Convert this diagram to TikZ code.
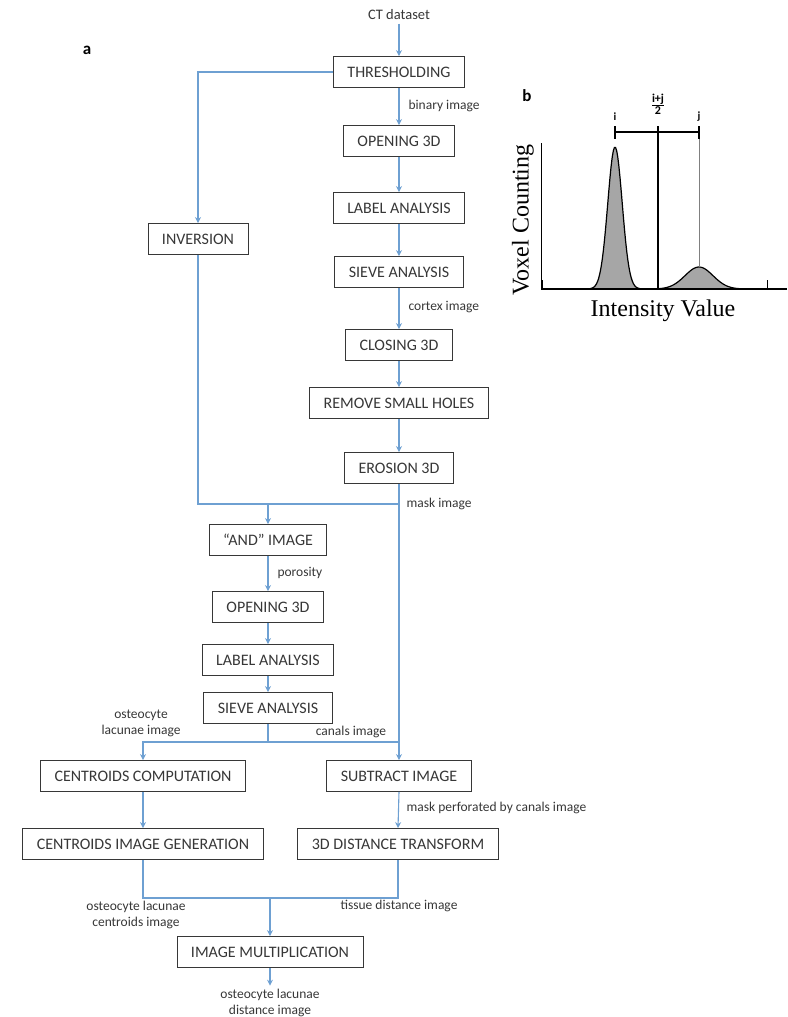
\documentclass[tikz,border=0pt]{standalone}
\usepackage{fontspec}
\setmainfont{Carlito}
\newfontfamily\histfont{Liberation Serif}
\usetikzlibrary{arrows.meta}
\definecolor{azul}{RGB}{110,160,210}
\definecolor{cinza}{RGB}{55,55,55}
\begin{document}
\begin{tikzpicture}
    [ x=1pt, y=-1pt,
      caixa/.style={draw=cinza, line width=0.9pt, minimum height=31pt, inner xsep=14pt, font=\fontsize{16}{18}\selectfont, text=cinza},
      rotulo/.style={font=\fontsize{13.5}{16}\selectfont, text=cinza, align=center},
      linha/.style={draw=azul, line width=1.1pt},
      seta/.style={linha, -{Stealth[length=6pt,width=6pt]}} ]

    \useasboundingbox (0,0) rectangle (787,1017);

    \node at (87,50) {\fontsize{17}{20}\selectfont\bfseries a};
    \node at (527,96) {\fontsize{17}{20}\selectfont\bfseries b};

    % coluna da direita
    \node (ct) at (399,15) [rotulo] {\fontsize{14.5}{16}\selectfont CT dataset};
    \node (t1) at (399,72) [caixa] {THRESHOLDING};
    \node (t2) at (399,141) [caixa] {OPENING 3D};
    \node (t3) at (399,208) [caixa] {LABEL ANALYSIS};
    \node (t4) at (399,272) [caixa] {SIEVE ANALYSIS};
    \node (t5) at (399,345) [caixa] {CLOSING 3D};
    \node (t6) at (399,403) [caixa] {REMOVE SMALL HOLES};
    \node (t7) at (399,468) [caixa] {EROSION 3D};
    \node (inv) at (198,239) [caixa] {INVERSION};

    \draw[seta] (ct.south) -- (t1.north);
    \draw[seta] (t1.south) -- (t2.north);
    \draw[seta] (t2.south) -- (t3.north);
    \draw[seta] (t3.south) -- (t4.north);
    \draw[seta] (t4.south) -- (t5.north);
    \draw[seta] (t5.south) -- (t6.north);
    \draw[seta] (t6.south) -- (t7.north);
    \draw[seta] (t1.west) -| (inv.north);

    \node at (405,106) [rotulo, anchor=west] {binary image};
    \node at (405,307) [rotulo, anchor=west] {cortex image};

    % coluna do meio
    \coordinate (m1) at (399,504);
    \coordinate (m2) at (268,504);
    \node (a1) at (268,540) [caixa] {“AND” IMAGE};
    \node (a2) at (268,607) [caixa] {OPENING 3D};
    \node (a3) at (268,660) [caixa] {LABEL ANALYSIS};
    \node (a4) at (268,708) [caixa] {SIEVE ANALYSIS};

    \draw[linha] (inv.south) |- (m1);
    \draw[seta] (m2) -- (a1.north);
    \draw[seta] (a1.south) -- (a2.north);
    \draw[seta] (a2.south) -- (a3.north);
    \draw[seta] (a3.south) -- (a4.north);
    \node at (403,504) [rotulo, anchor=west] {mask image};
    \node at (274,573) [rotulo, anchor=west] {porosity};

    % parte de baixo
    \coordinate (s1) at (268,742);
    \coordinate (s2) at (399,742);
    \node (c1) at (143,776) [caixa] {CENTROIDS COMPUTATION};
    \node (c2) at (143,844) [caixa] {CENTROIDS IMAGE GENERATION};
    \node (d1) at (399,776) [caixa] {SUBTRACT IMAGE};
    \node (d2) at (398,844) [caixa] {3D DISTANCE TRANSFORM};

    \draw[seta] (t7.south) -- (d1.north);
    \draw[linha] (a4.south) -- (s1);
    \draw[seta] (s2) -| (c1.north);
    \draw[seta] (c1.south) -- (c2.north);
    \draw[seta] (d1.south) -- (d2.north);
    \node at (141,723) [rotulo] {osteocyte\\lacunae image};
    \node at (351,732) [rotulo] {canals image};
    \node at (403,808) [rotulo, anchor=west] {mask perforated by canals image};

    \coordinate (j1) at (270,898);
    \node (mu) at (270,952) [caixa] {IMAGE MULTIPLICATION};
    \node (out) at (270,1003) [rotulo] {osteocyte lacunae\\distance image};
    \draw[linha] (c2.south) |- (j1) -| (d2.south);
    \draw[seta] (j1) -- (mu.north);
    \draw[seta] (mu.south) -- (out.north);
    \node at (136,915) [rotulo] {osteocyte lacunae\\centroids image};
    \node at (399,906) [rotulo] {tissue distance image};

    % histograma
    \fill[gray!70] plot[domain=582:648, samples=60] (\x, {289-142*exp(-0.5*((\x-615)/7.2)^2)}) -- cycle;
    \fill[gray!70] plot[domain=655:745, samples=60] (\x, {289-22*exp(-0.5*((\x-699)/14)^2)}) -- cycle;
    \draw[line width=1.2pt] plot[domain=582:648, samples=60] (\x, {289-142*exp(-0.5*((\x-615)/7.2)^2)});
    \draw[line width=1.2pt] plot[domain=655:745, samples=60] (\x, {289-22*exp(-0.5*((\x-699)/14)^2)});
    \draw[line width=1.2pt] (541,289) -- (787,289);
    \draw[line width=0.9pt] (541,143) -- (541,289);
    \draw[line width=2pt] (542,280) -- (542,289);
    \draw[line width=0.8pt] (767,280) -- (767,289);
    \draw[line width=1.3pt] (658,132) -- (658,289);
    \draw[gray, line width=0.6pt] (699,132) -- (699,267);
    \draw[line width=1.6pt] (615,132) -- (699,132);
    \foreach \p in {615,658,699} \draw[line width=1.6pt] (\p,126) -- (\p,139);
    \node at (615,117) {\fontsize{11}{12}\selectfont\bfseries i};
    \node at (699,117) {\fontsize{11}{12}\selectfont\bfseries j};
    \node (fr) at (658,106) {\fontsize{12}{13}\selectfont\bfseries\begin{tabular}{@{}c@{}}i+j\\[-2pt]\hline 2\end{tabular}};
    \node at (523,220) [rotate=90] {\histfont\fontsize{24}{28}\selectfont Voxel Counting};
    \node at (663,311) {\histfont\fontsize{24}{28}\selectfont Intensity Value};
\end{tikzpicture}
\end{document}
